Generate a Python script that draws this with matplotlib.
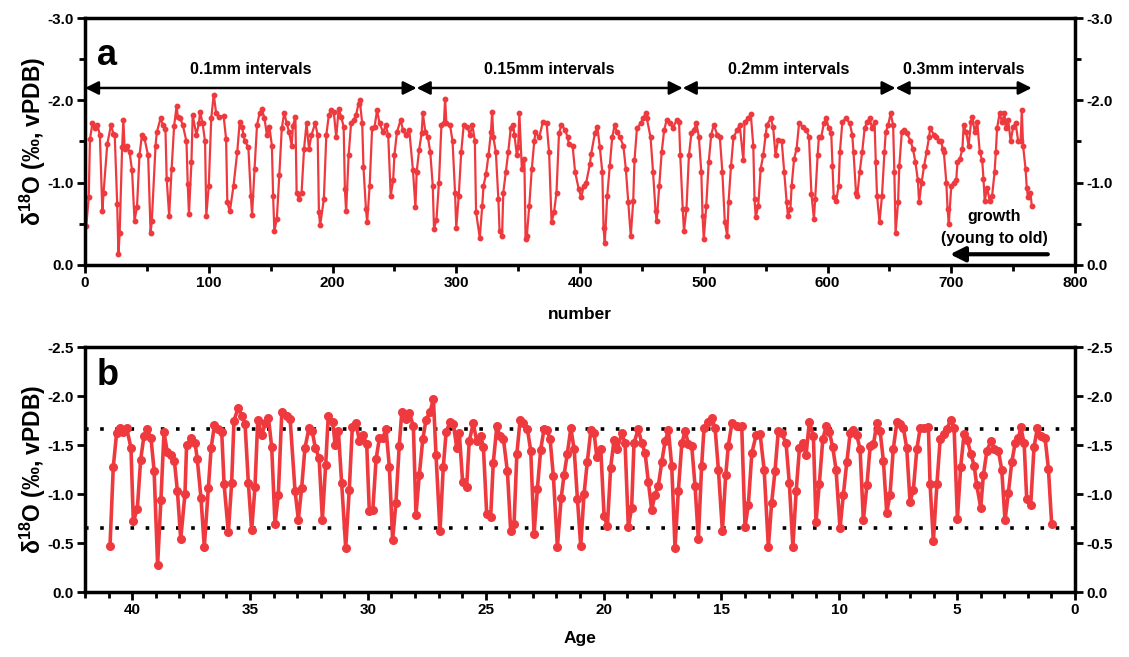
import matplotlib
matplotlib.use("Agg")
import matplotlib.pyplot as plt
from matplotlib.ticker import MultipleLocator, FormatStrFormatter

# ---- panel a: sample number vs d18O ----
num = [1, 3, 4, 6, 8, 10, 12, 14, 15, 18, 21, 23, 24, 26, 27, 28, 30, 31, 32, 34,
       36, 38, 40, 42, 44, 46, 48, 51, 53, 54, 57, 58, 61, 63, 65, 66, 68, 70, 72, 74,
       75, 77, 79, 82, 83, 84, 86, 87, 90, 92, 93, 95, 97, 98, 100, 102, 104, 106, 108, 112,
       114, 115, 117, 120, 123, 125, 127, 128, 129, 132, 134, 135, 137, 139, 141, 143, 145, 147, 149, 151,
       152, 153, 155, 157, 159, 161, 163, 165, 167, 168, 170, 171, 173, 175, 177, 179, 181, 183, 186, 188,
       189, 190, 193, 195,
       197, 199, 201, 203, 205, 207, 209, 210, 211, 213, 215, 217, 219, 221, 222, 224, 225, 227, 228, 230,
       232, 234, 236, 238, 241, 243, 245, 247, 249, 250, 252, 255, 257, 259, 262, 265, 267, 268, 270, 272,
       273, 275, 277, 279, 281, 282, 284, 286, 288, 290, 291, 292, 295, 297, 299, 300, 302, 304, 306, 309,
       311, 313, 315, 316, 319, 321, 322, 324, 326, 328, 329, 330, 332, 334, 335, 337, 338, 340, 342, 344,
       346, 347, 349, 350, 351, 353, 355, 356, 357, 359, 361, 363, 364, 367, 370, 373, 375, 377, 379, 381,
       383, 385, 388, 390,
       391, 394, 396, 399, 401, 403, 405, 408, 409, 412, 414, 416, 418, 419, 420, 422, 424, 426, 428, 430,
       432, 435, 437, 439, 441, 443, 444, 446, 449, 451, 453, 454, 457, 459, 461, 462, 464, 466, 468, 470,
       473, 475, 478, 480, 481, 483, 484, 486, 488, 490, 492, 494, 496, 498, 499, 500, 502, 504, 506, 508,
       511, 513, 515, 517, 519, 520, 522, 524, 527, 529, 532, 533, 536, 538, 540, 541, 542, 544, 546, 548,
       550, 551, 554, 556, 558, 560, 563, 565, 567, 568, 570, 571, 573, 575, 577, 580, 583, 585,
       587, 589, 590, 592, 593, 595, 597, 599, 601, 603, 604, 605, 607, 609, 610, 612, 615, 618, 620, 621,
       623, 624, 626, 628, 630, 632, 634, 636, 638, 639, 640, 642, 644, 646, 647, 649, 651, 653, 654, 655,
       657, 658, 660, 662, 664, 667, 669, 671, 673, 674, 676, 678, 680, 682, 683, 686, 688, 690, 692, 693,
       694, 696, 697, 698, 700, 702, 704, 705, 707, 709, 710, 712, 714, 716, 717, 719, 721, 723, 725, 726,
       727, 729, 731, 733, 735, 736, 737, 739, 741, 743, 744, 746, 748, 750, 752, 754, 756, 757, 758, 760,
       761, 762, 764, 765]
d18o_a = [-0.47, -0.82, -1.53, -1.72, -1.66, -1.70, -1.58, -0.65, -0.88, -1.47, -1.70, -1.59, -1.58, -0.74, -0.13, -0.39, -1.43, -1.76, -1.41, -1.45,
          -1.37, -1.15, -0.54, -0.70, -1.33, -1.58, -1.54, -1.33, -0.39, -0.54, -1.45, -1.61, -1.78, -1.70, -1.65, -1.04, -0.60, -1.17, -1.69, -1.93,
          -1.80, -1.78, -1.70, -1.50, -0.98, -0.62, -1.25, -1.82, -1.58, -1.72, -1.86, -1.72, -1.50, -0.60, -0.96, -1.78, -2.07, -1.84, -1.80, -1.81,
          -1.53, -0.76, -0.65, -0.96, -1.37, -1.74, -1.68, -1.58, -1.51, -1.43, -0.84, -0.61, -1.17, -1.70, -1.84, -1.89, -1.78, -1.58, -1.68, -1.45,
          -0.84, -0.41, -0.56, -1.09, -1.66, -1.85, -1.72, -1.61, -1.45, -1.69, -1.80, -0.88, -0.80, -0.88, -1.41, -1.72, -1.41, -1.58, -1.72, -1.58,
          -0.64, -0.48, -0.80, -1.58,
          -1.82, -1.88, -1.86, -1.55, -1.90, -1.80, -1.68, -0.92, -0.65, -1.33, -1.72, -1.76, -1.82, -1.96, -2.00, -1.72, -1.19, -0.68, -0.52, -0.96,
          -1.66, -1.68, -1.88, -1.72, -1.61, -1.70, -1.58, -0.84, -1.03, -1.33, -1.61, -1.76, -1.64, -1.58, -1.64, -1.15, -0.70, -1.13, -1.40, -1.60,
          -1.84, -1.62, -1.56, -1.37, -0.96, -0.44, -0.55, -1.00, -1.70, -1.72, -2.02, -1.72, -1.70, -1.50, -0.88, -0.45, -0.84, -1.37, -1.70, -1.68,
          -1.58, -1.70, -1.51, -0.64, -0.33, -0.72, -0.96, -1.10, -1.33, -1.61, -1.86, -1.55, -1.37, -0.80, -0.41, -0.35, -0.88, -1.13, -1.37, -1.66,
          -1.70, -1.58, -1.33, -1.43, -1.84, -1.16, -1.29, -0.31, -0.35, -0.72, -1.16, -1.50, -1.61, -1.55, -1.74, -1.72, -1.37, -0.52, -0.64, -0.88,
          -1.60, -1.70, -1.64, -1.55,
          -1.47, -1.45, -1.13, -0.92, -0.82, -0.96, -1.00, -1.23, -1.35, -1.60, -1.68, -1.43, -1.13, -0.45, -0.27, -0.84, -1.20, -1.55, -1.70, -1.61,
          -1.56, -1.45, -1.17, -0.76, -0.35, -0.78, -1.27, -1.66, -1.72, -1.78, -1.84, -1.78, -1.55, -1.13, -0.66, -0.54, -0.96, -1.37, -1.64, -1.76,
          -1.72, -1.66, -1.76, -1.74, -1.33, -0.68, -0.41, -0.68, -1.33, -1.60, -1.64, -1.72, -1.56, -1.13, -0.60, -0.31, -0.72, -1.25, -1.58, -1.70,
          -1.58, -1.55, -1.13, -0.52, -0.35, -0.76, -1.20, -1.55, -1.64, -1.70, -1.27, -1.74, -1.78, -1.83, -1.45, -0.80, -0.58, -0.72, -1.17, -1.33,
          -1.58, -1.70, -1.78, -1.68, -1.33, -1.52, -1.50, -1.13, -0.76, -0.60, -0.68, -0.96, -1.29, -1.41, -1.72, -1.68, -1.64, -1.55,
          -0.86, -0.56, -0.80, -1.33, -1.55, -1.56, -1.72, -1.78, -1.66, -1.60, -1.20, -0.82, -0.78, -0.96, -1.37, -1.74, -1.78, -1.72, -1.58, -1.37,
          -0.88, -0.84, -1.13, -1.37, -1.66, -1.74, -1.78, -1.66, -1.74, -1.25, -0.84, -0.52, -0.84, -1.37, -1.61, -1.70, -1.84, -1.70, -1.13, -0.39,
          -0.76, -1.20, -1.61, -1.64, -1.60, -1.51, -1.41, -1.25, -1.03, -0.76, -1.00, -1.20, -1.37, -1.55, -1.66, -1.58, -1.56, -1.51, -1.50, -1.41,
          -1.37, -1.00, -0.68, -0.50, -0.96, -1.00, -1.03, -1.25, -1.29, -1.41, -1.70, -1.61, -1.45, -1.74, -1.80, -1.61, -1.74, -1.37, -1.27, -1.05,
          -0.78, -0.94, -0.78, -0.84, -1.13, -1.37, -1.66, -1.84, -1.74, -1.84, -1.66, -1.76, -1.50, -1.68, -1.72, -1.51, -1.50, -1.88, -1.45, -1.17,
          -0.94, -0.82, -0.88, -0.72]

# ---- panel b: age vs d18O ----
age = [40.94, 40.80, 40.66, 40.52, 40.38, 40.23, 40.05, 39.95, 39.78, 39.64, 39.50, 39.36, 39.20, 39.07, 38.92, 38.78, 38.65, 38.51, 38.36, 38.21,
       38.08, 37.94, 37.76, 37.69, 37.50, 37.33, 37.24, 37.08, 36.94, 36.77, 36.65, 36.51, 36.34, 36.20, 36.10, 35.92, 35.78, 35.68, 35.50, 35.35,
       35.21, 35.07, 34.93, 34.79, 34.67, 34.50, 34.36, 34.22, 34.08, 33.94, 33.80, 33.65, 33.44, 33.30, 33.09, 32.95, 32.81, 32.67, 32.50, 32.36,
       32.23, 32.07, 31.93, 31.79, 31.68, 31.49, 31.39, 31.25, 31.11, 30.94, 30.79, 30.66, 30.50, 30.36, 30.22, 30.05, 29.94, 29.79, 29.65, 29.51,
       29.37, 29.23, 29.09, 28.95, 28.81, 28.67, 28.56, 28.38, 28.24, 28.07, 27.96, 27.82, 27.67, 27.53, 27.36, 27.22, 27.11, 26.94, 26.80, 26.68,
       26.51, 26.37, 26.23, 26.12, 25.98, 25.81, 25.70, 25.53, 25.38, 25.21, 25.10, 24.96, 24.79, 24.68, 24.53, 24.39, 24.25, 24.08, 23.94, 23.80,
       23.68, 23.54, 23.40, 23.23, 23.09, 22.95, 22.81, 22.67, 22.53, 22.39, 22.27, 22.13, 21.96, 21.80, 21.68, 21.54, 21.39, 21.25, 21.11, 20.97,
       20.83, 20.69, 20.54, 20.40, 20.29, 20.12, 19.98, 19.84, 19.70, 19.56, 19.42, 19.23, 19.09, 18.95, 18.81, 18.71, 18.53, 18.38, 18.24, 18.10,
       17.96, 17.82, 17.68, 17.53, 17.39, 17.25, 17.11, 16.97, 16.83, 16.68, 16.54, 16.40, 16.26, 16.12, 15.98, 15.84, 15.74, 15.56, 15.41, 15.27,
       15.13, 14.96, 14.82, 14.71, 14.56, 14.35, 14.14, 14.00, 13.86, 13.71, 13.53, 13.36, 13.19, 13.01, 12.87, 12.73, 12.59, 12.44, 12.26, 12.12,
       11.97, 11.83, 11.69, 11.55, 11.41, 11.27, 11.10, 10.99, 10.85, 10.70, 10.56, 10.42, 10.28, 10.14, 9.97, 9.83, 9.68, 9.54, 9.40, 9.26,
       9.12, 8.98, 8.83, 8.69, 8.55, 8.41, 8.27, 8.13, 7.99, 7.85, 7.71, 7.56, 7.42, 7.28, 7.14, 7.00, 6.86, 6.71, 6.57, 6.40,
       6.22, 6.15, 6.01, 5.86, 5.72, 5.58, 5.44, 5.27, 5.13, 4.99, 4.85, 4.71, 4.57, 4.42, 4.28, 4.17, 4.00, 3.89, 3.74, 3.57,
       3.43, 3.25, 3.11, 2.97, 2.83, 2.68, 2.54, 2.40, 2.30, 2.16, 2.05, 1.88, 1.74, 1.60, 1.45, 1.27, 1.13, 0.99]
d18o_b = [-0.47, -1.28, -1.62, -1.67, -1.63, -1.67, -1.47, -0.72, -0.85, -1.35, -1.59, -1.66, -1.57, -1.24, -0.28, -0.94, -1.63, -1.43, -1.40, -1.34,
          -1.03, -0.54, -1.00, -1.50, -1.57, -1.52, -1.36, -0.96, -0.46, -1.06, -1.47, -1.70, -1.66, -1.63, -1.10, -0.61, -1.11, -1.75, -1.88, -1.80,
          -1.71, -1.11, -0.63, -1.07, -1.76, -1.60, -1.72, -1.78, -1.48, -0.69, -0.99, -1.84, -1.80, -1.77, -1.03, -0.74, -1.06, -1.47, -1.67, -1.64,
          -1.47, -1.37, -0.74, -1.30, -1.80, -1.74, -1.50, -1.64, -1.11, -0.45, -1.04, -1.68, -1.72, -1.54, -1.60, -1.51, -0.83, -0.84, -1.36, -1.57,
          -1.57, -1.66, -1.28, -0.53, -0.91, -1.49, -1.84, -1.77, -1.83, -1.69, -0.79, -1.19, -1.56, -1.76, -1.84, -1.97, -1.40, -0.62, -1.28, -1.63,
          -1.74, -1.71, -1.47, -1.62, -1.12, -1.07, -1.54, -1.72, -1.54, -1.59, -1.48, -0.80, -0.77, -1.32, -1.69, -1.59, -1.56, -1.23, -0.62, -0.69,
          -1.41, -1.76, -1.72, -1.66, -1.44, -0.59, -1.05, -1.45, -1.66, -1.65, -1.56, -1.18, -0.46, -0.96, -1.19, -1.41, -1.67, -1.46, -0.95, -0.47,
          -1.00, -1.33, -1.65, -1.62, -1.38, -1.46, -0.78, -0.67, -1.27, -1.55, -1.46, -1.62, -1.52, -0.66, -0.86, -1.52, -1.66, -1.52, -1.42, -1.12,
          -0.84, -0.99, -1.08, -1.33, -1.54, -1.65, -1.29, -0.45, -1.03, -1.52, -1.64, -1.51, -1.49, -1.08, -0.54, -1.29, -1.67, -1.74, -1.78, -1.67,
          -1.25, -0.62, -1.19, -1.49, -1.72, -1.69, -1.69, -0.66, -0.89, -1.42, -1.60, -1.61, -1.25, -0.46, -0.91, -1.23, -1.64, -1.62, -1.52, -1.11,
          -0.46, -1.03, -1.47, -1.52, -1.40, -1.74, -1.59, -0.71, -1.10, -1.56, -1.69, -1.63, -1.48, -1.25, -0.65, -0.99, -1.33, -1.62, -1.65, -1.60,
          -1.46, -0.73, -1.09, -1.49, -1.51, -1.72, -1.64, -1.34, -0.81, -0.99, -1.46, -1.73, -1.71, -1.67, -1.47, -0.92, -1.04, -1.46, -1.67, -1.67,
          -1.68, -1.10, -0.52, -1.10, -1.56, -1.61, -1.66, -1.76, -1.67, -0.75, -1.28, -1.61, -1.55, -1.41, -1.29, -1.09, -0.86, -1.19, -1.44, -1.54,
          -1.46, -1.44, -1.25, -0.73, -1.01, -1.33, -1.52, -1.57, -1.68, -1.52, -0.95, -0.89, -1.48, -1.67, -1.59, -1.57, -1.26, -0.69]

band_hi = -1.66
band_lo = -0.65

RED = "#ee3a3f"

plt.rcParams["font.family"] = ["Liberation Sans", "DejaVu Sans"]
plt.rcParams["font.weight"] = "bold"
plt.rcParams["mathtext.default"] = "regular"
plt.rcParams["axes.unicode_minus"] = False

fig = plt.figure(figsize=(11.29, 6.57), dpi=100)
ax1 = fig.add_axes([0.0753, 0.5967, 0.8769, 0.3759])
ax2 = fig.add_axes([0.0753, 0.0989, 0.8769, 0.3729])


def style(ax):
    for s in ax.spines.values():
        s.set_linewidth(2.5)
    ax.tick_params(which="both", direction="out", width=2, top=False,
                   right=True, labelright=True, labelsize=11, pad=2)
    ax.tick_params(which="major", length=6)
    ax.tick_params(which="minor", length=4)
    for lab in ax.get_xticklabels() + ax.get_yticklabels():
        lab.set_fontweight("bold")


# panel a
ax1.plot(num, d18o_a, "-o", color=RED, lw=1.6, ms=3.2, mec=RED, mfc=RED)
ax1.set_xlim(0, 800)
ax1.set_ylim(0, -3)
ax1.xaxis.set_major_locator(MultipleLocator(100))
ax1.xaxis.set_minor_locator(MultipleLocator(50))
ax1.yaxis.set_major_locator(MultipleLocator(1))
ax1.yaxis.set_minor_locator(MultipleLocator(0.5))
ax1.yaxis.set_major_formatter(FormatStrFormatter("%.1f"))
ax1.set_xlabel("number", fontsize=12.5, fontweight="bold", labelpad=12)
ax1.set_ylabel("δ$^{18}$O (‰, vPDB)", fontsize=16.5, fontweight="bold", labelpad=0)
style(ax1)

ax1.text(10, -2.43, "a", fontsize=26, fontweight="bold", va="baseline")

bounds = [0, 268, 483, 655, 765]
labels = ["0.1mm intervals", "0.15mm intervals", "0.2mm intervals", "0.3mm intervals"]
for i, lab in enumerate(labels):
    ax1.annotate("", xy=(bounds[i], -2.15), xytext=(bounds[i + 1], -2.15),
                 arrowprops=dict(arrowstyle="<|-|>", color="k", lw=1.8,
                                 mutation_scale=20, shrinkA=0, shrinkB=0))
    ax1.text((bounds[i] + bounds[i + 1]) / 2, -2.37, lab, ha="center",
             va="center", fontsize=11.5, fontweight="bold")

ax1.text(735, -0.585, "growth", ha="center", va="center", fontsize=11.5, fontweight="bold")
ax1.text(735, -0.32, "(young to old)", ha="center", va="center", fontsize=11.5, fontweight="bold")
ax1.annotate("", xy=(699, -0.13), xytext=(778, -0.13),
             arrowprops=dict(arrowstyle="-|>", color="k", lw=3,
                             mutation_scale=22, shrinkA=0, shrinkB=0))

# panel b
ax2.axhline(band_hi, color="k", ls=(0, (1, 3.2)), lw=2.6)
ax2.axhline(band_lo, color="k", ls=(0, (1, 3.2)), lw=2.6)
ax2.plot(age, d18o_b, "-o", color=RED, lw=2.6, ms=5.5, mec=RED, mfc=RED)
ax2.set_xlim(42, 0)
ax2.set_ylim(0, -2.5)
ax2.xaxis.set_major_locator(MultipleLocator(5))
ax2.xaxis.set_minor_locator(MultipleLocator(1))
ax2.yaxis.set_major_locator(MultipleLocator(0.5))
ax2.yaxis.set_major_formatter(FormatStrFormatter("%.1f"))
ax2.set_xlabel("Age", fontsize=12.5, fontweight="bold", labelpad=10)
ax2.set_ylabel("δ$^{18}$O (‰, vPDB)", fontsize=16.5, fontweight="bold", labelpad=0)
style(ax2)

ax2.text(41.5, -2.11, "b", fontsize=26, fontweight="bold", va="baseline")

fig.savefig("out.png", dpi=100)
